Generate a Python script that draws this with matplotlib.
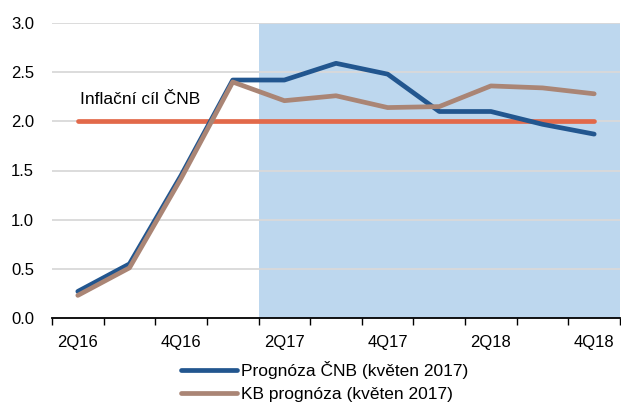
import numpy as np
import matplotlib.pyplot as plt

plt.rcParams['font.family'] = ['Liberation Sans', 'DejaVu Sans']

quarters = ['2Q16', '3Q16', '4Q16', '1Q17', '2Q17', '3Q17',
            '4Q17', '1Q18', '2Q18', '3Q18', '4Q18']
cnb = [0.27, 0.55, 1.45, 2.42, 2.42, 2.59, 2.48, 2.10, 2.10, 1.97, 1.87]
kb = [0.23, 0.51, 1.42, 2.40, 2.21, 2.26, 2.14, 2.15, 2.36, 2.34, 2.28]
target = [2.0] * len(quarters)
forecast_start = '2Q17'

fig = plt.figure(figsize=(6.21, 4.03), dpi=100)
ax = fig.add_axes([52 / 621, 1 - 318 / 403, 568 / 621, 295 / 403])

x = np.arange(len(quarters)) + 0.5
i0 = quarters.index(forecast_start)
ax.axvspan(i0, len(quarters), color='#BDD7EE', lw=0, zorder=0)

for yv in np.arange(0.5, 3.01, 0.5):
    ax.axhline(yv, color='#D9D9D9', lw=1.3, zorder=1)

ax.plot(x, target, color='#E2694A', lw=3.4, solid_capstyle='round', zorder=3)
ax.plot(x, cnb, color='#22568F', lw=3.4, solid_capstyle='round',
        label='Prognóza ČNB (květen 2017)', zorder=4)
ax.plot(x, kb, color='#AA8575', lw=3.4, solid_capstyle='round',
        label='KB prognóza (květen 2017)', zorder=5)

ax.text(0.55, 2.22, 'Inflační cíl ČNB', fontsize=12.5, ha='left', va='center')

ax.set_xlim(0, len(quarters))
ax.set_ylim(0, 3)
ax.set_yticks(np.arange(0, 3.01, 0.5))
ax.set_yticklabels([f'{v:.1f}' for v in np.arange(0, 3.01, 0.5)], fontsize=12)
ax.set_xticks(np.arange(len(quarters) + 1))
ax.set_xticklabels([])
ax.set_xticks(x[::2], minor=True)
ax.set_xticklabels(quarters[::2], minor=True, fontsize=12)
ax.tick_params(axis='x', which='major', length=5, width=1, color='black', direction='out')
ax.tick_params(axis='x', which='minor', length=0, pad=12)
ax.tick_params(axis='y', length=0, pad=13)

for s in ['top', 'right', 'left']:
    ax.spines[s].set_visible(False)
ax.spines['bottom'].set_linewidth(1.3)
ax.spines['bottom'].set_zorder(6)

fig.legend(loc='upper left', bbox_to_anchor=(181 / 621, 1 - 361 / 403),
           frameon=False, fontsize=12.5, handlelength=3.2, handletextpad=0.25,
           labelspacing=0.45, borderaxespad=0, borderpad=0)

fig.savefig('out.png', dpi=100)
